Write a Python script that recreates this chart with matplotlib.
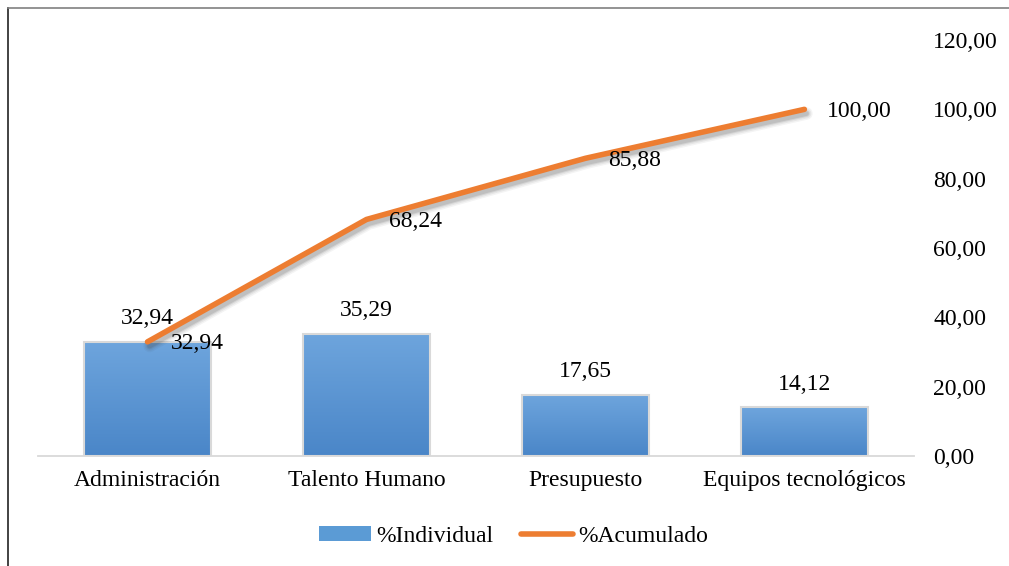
import matplotlib
matplotlib.use("Agg")
import matplotlib.pyplot as plt
import matplotlib.patheffects as pe
import numpy as np
from matplotlib.colors import LinearSegmentedColormap
from matplotlib.lines import Line2D

categories = ["Administración", "Talento Humano", "Presupuesto", "Equipos tecnológicos"]
individual = [32.94, 35.29, 17.65, 14.12]
acumulado = [32.94, 68.24, 85.88, 100.00]
yticks = [0, 20, 40, 60, 80, 100, 120]


def fmt(v):
    return f"{v:.2f}".replace(".", ",")


plt.rcParams["font.family"] = ["Liberation Serif", "DejaVu Serif"]
plt.rcParams["font.size"] = 17

fig = plt.figure(figsize=(10.09, 5.66), dpi=100)
ax = fig.add_axes([0.0377, 0.1943, 0.868, 0.7350])

x = np.arange(len(categories))
bars = ax.bar(x, individual, width=0.58, color="none", edgecolor="#d9d9d9",
              linewidth=1.5, zorder=2)

# vertical gradient fill, clipped to each bar
grad = LinearSegmentedColormap.from_list("blu", ["#4a86c8", "#6ea5dd"])
g = np.linspace(0, 1, 256).reshape(-1, 1)
for rect in bars:
    x0, w, h = rect.get_x(), rect.get_width(), rect.get_height()
    im = ax.imshow(g, cmap=grad, origin="lower", aspect="auto",
                   extent=[x0, x0 + w, 0, h], zorder=1.9)
    im.set_clip_path(rect)
    ax.text(x0 + w / 2, h + 3.6, fmt(h), ha="center", va="bottom", fontsize=17)

# soft drop shadow: a few stacked translucent strokes
shadow = [pe.SimpleLineShadow(offset=(1.5, -3), shadow_color="#444444",
                              alpha=a, linewidth=lw)
          for lw, a in [(9, 0.06), (7, 0.08), (5, 0.11), (3.5, 0.14)]]
ax.plot(x, acumulado, color="#ed7d31", linewidth=4.0, solid_capstyle="round",
        zorder=3, path_effects=shadow + [pe.Normal()])
for xi, v in zip(x, acumulado):
    ax.annotate(fmt(v), (xi, v), xytext=(16.5, -1.5), textcoords="offset points",
                ha="left", va="center", fontsize=17, zorder=4)

ax.set_xlim(-0.5, len(categories) - 0.5)
ax.set_ylim(0, 120)
ax.set_xticks(x)
ax.set_xticklabels(categories)
ax.tick_params(axis="x", length=0, pad=10)
ax.yaxis.tick_right()
ax.set_yticks(yticks)
ax.set_yticklabels([fmt(t) for t in yticks])
ax.tick_params(axis="y", length=0, pad=14)
for t in ax.get_yticklabels():
    t.set_horizontalalignment("left")
for s in ["top", "left", "right"]:
    ax.spines[s].set_visible(False)
ax.spines["bottom"].set_color("#d9d9d9")
ax.spines["bottom"].set_linewidth(1.3)

handles = [plt.Rectangle((0, 0), 1, 1, facecolor="#5b9bd5", edgecolor="none"),
           Line2D([0], [0], color="#ed7d31", linewidth=4.0, solid_capstyle="round")]
fig.legend(handles, ["%Individual", "%Acumulado"], loc="center",
           bbox_to_anchor=(0.509, 0.053), ncol=2, frameon=False, fontsize=17,
           handlelength=2.2, handleheight=0.6, handletextpad=0.2,
           columnspacing=1.2)

# outer frame (left and top edges)
fig.add_artist(Line2D([8 / 1009, 8 / 1009], [0, 1 - 8 / 566], color="#222222",
                      linewidth=1.2, transform=fig.transFigure))
fig.add_artist(Line2D([8 / 1009, 1], [1 - 8 / 566, 1 - 8 / 566], color="#808080",
                      linewidth=1.2, transform=fig.transFigure))

fig.savefig("out.png", dpi=100)
